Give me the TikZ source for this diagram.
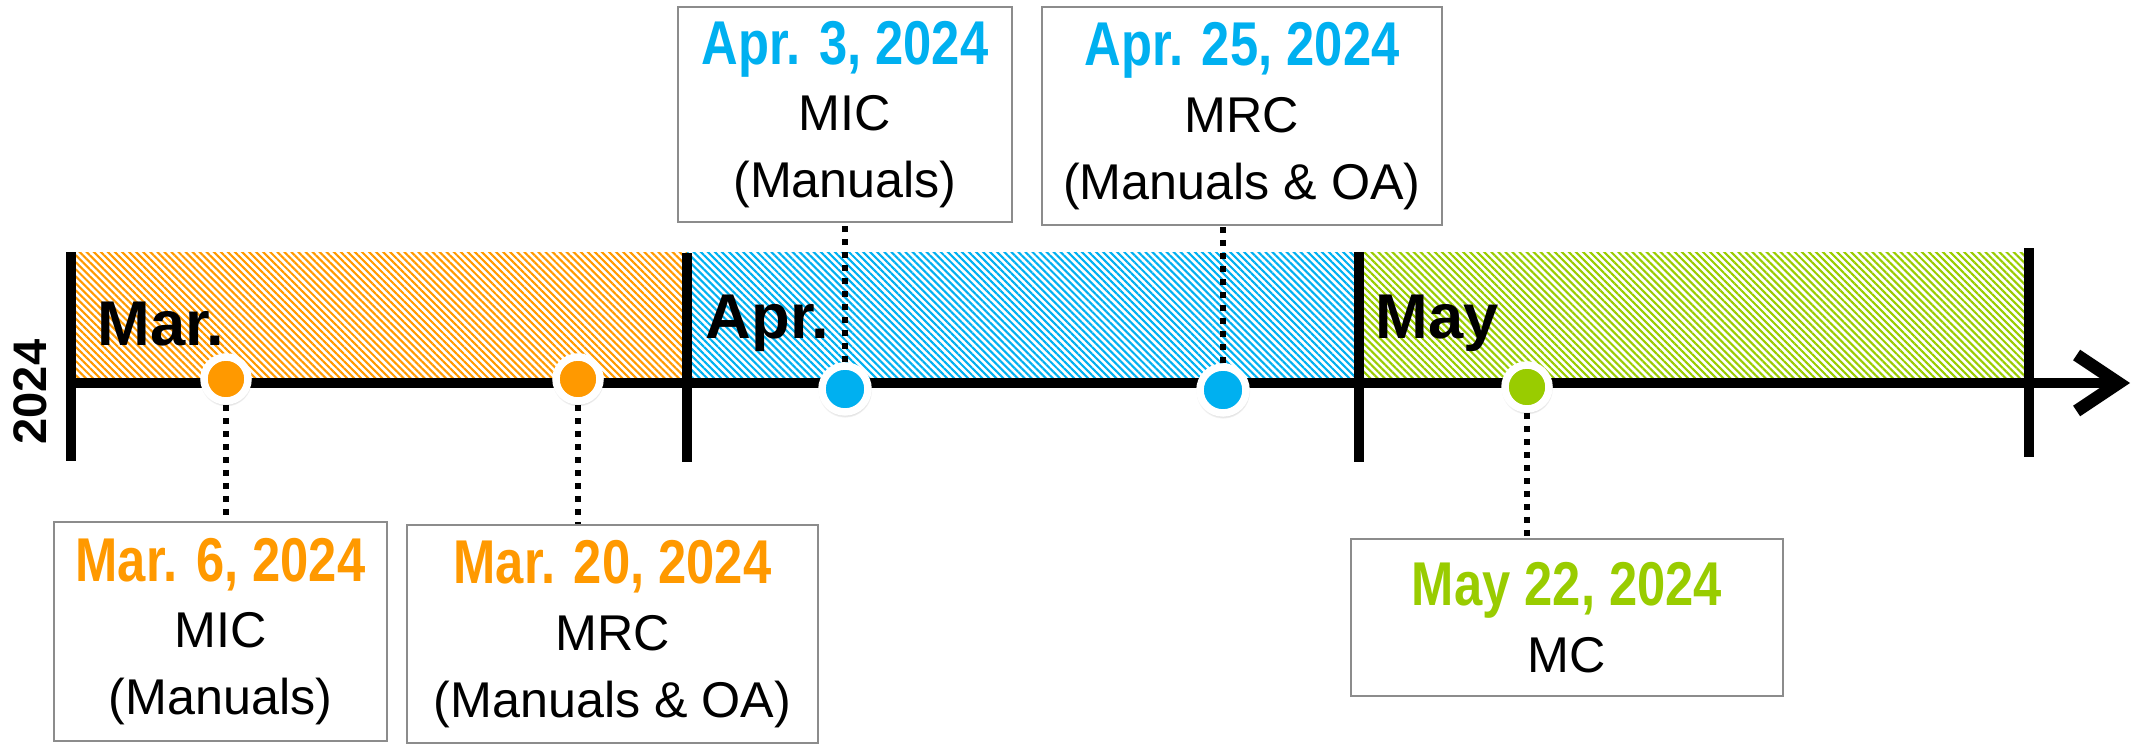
\documentclass[tikz,border=0pt]{standalone}
\usepackage{fontspec}
\setmainfont{Liberation Sans}
\newfontfamily\narrowfont[FakeStretch=0.82]{Liberation Sans}
\usepackage{tikz}
\usetikzlibrary{arrows.meta,patterns.meta,shadows,positioning}

\definecolor{marOrange}{HTML}{FF9900}
\definecolor{aprBlue}{HTML}{00B0F0}
\definecolor{mayGreen}{HTML}{99CC00}
\definecolor{boxGray}{HTML}{8C8C8C}
\newcommand{\DateFont}{\narrowfont\bfseries\fontsize{17.6}{19}\selectfont}

\begin{document}
\begin{tikzpicture}
			\tikzstyle{Hatch}	= [pattern={Lines[angle=-45, distance=1.42pt, line width=0.6pt]}]
			\tikzstyle{Tick}	= [line width=2.8pt]
			\tikzstyle{Axis}	= [line width=3pt, -{Straight Barb[length=4.2mm, width=5.6mm, line width=3.6pt]}]
			\tikzstyle{MonthLabel}	= [anchor=base west, inner sep=0pt, font=\fontsize{18}{20}\selectfont\bfseries]
			\tikzstyle{Dot}		= [circle, draw=white, line width=0.075cm, minimum size=0.44cm, inner sep=0pt, circular drop shadow={shadow xshift=0pt, shadow yshift=-0.4pt, shadow scale=1.18, opacity=0.4}]
			\tikzstyle{BigDot}	= [Dot, minimum size=0.46cm]
			\tikzstyle{Event}	= [draw=boxGray, line width=0.6pt, fill=white, align=center, inner sep=0pt, font=\fontsize{14.3}{19}\selectfont]
			\tikzstyle{Leader}	= [line width=1.8pt, dash pattern=on 1.8pt off 1.9pt]
			
			\useasboundingbox (0,0) rectangle (21.39,7.44);
			
			\coordinate (m0) at (0.71,3.61);
			\coordinate (m1) at (6.87,3.61);
			\coordinate (m2) at (13.59,3.61);
			\coordinate (m3) at (20.29,3.61);
			\coordinate (end) at (21.30,3.61);
			
			\fill [Hatch, pattern color=marOrange] (m0) rectangle ([yshift=1.31cm]m1);
			\fill [Hatch, pattern color=aprBlue] (m1) rectangle ([yshift=1.31cm]m2);
			\fill [Hatch, pattern color=mayGreen] (m2) rectangle ([yshift=1.31cm]m3);
			
			\draw [Axis] (m0) -- (end);
			\draw [Tick] ([yshift=1.31cm]m0) -- ([yshift=-0.78cm]m0);
			\draw [Tick] ([yshift=1.30cm]m1) -- ([yshift=-0.79cm]m1);
			\draw [Tick] ([yshift=1.31cm]m2) -- ([yshift=-0.79cm]m2);
			\draw [Tick] ([yshift=1.35cm]m3) -- ([yshift=-0.74cm]m3);
			
			\node (year) at (0.30,3.52) [rotate=90, font=\fontsize{13.4}{15}\selectfont\bfseries] {2024};
			\node (mar) at (0.97,3.99) [MonthLabel] {Mar.};
			\node (apr) at (7.05,4.06) [MonthLabel] {Apr.};
			\node (may) at (13.75,4.06) [MonthLabel] {May};
			
			\node (d1) at (2.26,3.65) [Dot, fill=marOrange] {};
			\node (d2) at (5.78,3.65) [Dot, fill=marOrange] {};
			\node (d3) at (8.45,3.55) [BigDot, fill=aprBlue] {};
			\node (d4) at (12.23,3.54) [BigDot, fill=aprBlue] {};
			\node (d5) at (15.27,3.57) [Dot, fill=mayGreen] {};
			
			\node (b1) at (2.205,1.125) [Event, minimum width=3.33cm, minimum height=2.19cm] {{\DateFont\color{marOrange}Mar. 6, 2024}\\MIC\\(Manuals)};
			\node (b2) at (6.125,1.10) [Event, minimum width=4.11cm, minimum height=2.18cm] {{\DateFont\color{marOrange}Mar. 20, 2024}\\MRC\\(Manuals \& OA)};
			\node (b3) at (8.45,6.295) [Event, minimum width=3.34cm, minimum height=2.15cm] {{\DateFont\color{aprBlue}Apr. 3, 2024}\\MIC\\(Manuals)};
			\node (b4) at (12.42,6.28) [Event, minimum width=4.00cm, minimum height=2.18cm] {{\DateFont\color{aprBlue}Apr. 25, 2024}\\MRC\\(Manuals \& OA)};
			\node (b5) at (15.67,1.265) [Event, minimum width=4.32cm, minimum height=1.57cm] {{\DateFont\color{mayGreen}May 22, 2024}\\MC};
			
			\draw [Leader] (d1) -- (d1 |- b1.north);
			\draw [Leader] (d2) -- (d2 |- b2.north);
			\draw [Leader] (d3) -- (d3 |- b3.south);
			\draw [Leader] (d4) -- (d4 |- b4.south);
			\draw [Leader] (d5) -- (d5 |- b5.north);
		\end{tikzpicture}
\end{document}
